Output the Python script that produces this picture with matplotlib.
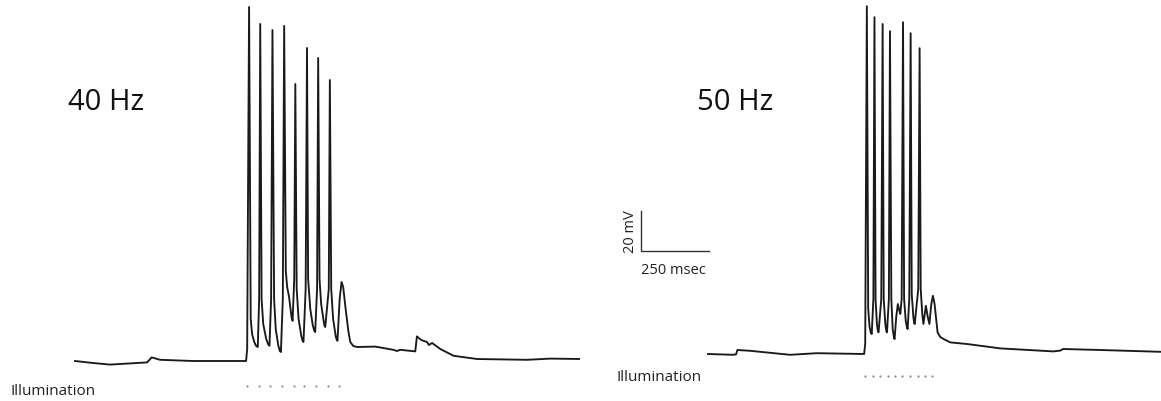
import numpy as np
import matplotlib
matplotlib.use('Agg')
import matplotlib.pyplot as plt

plt.rcParams['font.family'] = ['Open Sans', 'DejaVu Sans']

# 40 Hz trace (time in ms, membrane potential in mV), key points
t40 = [0, 66, 129, 265, 282, 313, 434, 629,
       633, 640, 646, 651, 659, 666, 672,
       677, 681, 686, 692, 703, 710, 715,
       721, 726, 732, 738, 747, 753, 757,
       764, 769, 775, 780, 787, 796, 800,
       806, 810, 815, 822, 832, 837, 840,
       848, 853, 857, 865, 874, 880, 883,
       890, 894, 899, 905, 913, 917, 920,
       933, 937, 942, 949, 959, 963, 965,
       973, 980, 986, 995, 1005, 1012, 1023, 1037,
       1104, 1170, 1184, 1196, 1251, 1257, 1273, 1294, 1301, 1313, 1343, 1392,
       1478, 1662, 1748, 1858]
v40 = [-65, -66, -66.8, -65.7, -63.2, -64.4, -65, -65,
       -59, 112, -44, -51.5, -55.5, -57.5, -58,
       -34, 103.5, -34, -46.5, -54, -56.6, -57.4,
       -34, 100.5, -34, -49, -57, -60, -60.5,
       -34, 102.5, -20, -28, -33, -43, -44.9,
       -24, 73.5, -29, -44, -52.5, -55, -55.5,
       -29, 91.5, -24, -39, -47, -50, -50.5,
       -29, 86.5, -24, -36.5, -44, -47.2, -48,
       -29, 75.5, -29, -44, -53, -54.5, -54.9,
       -34, -25.5, -28, -39, -50, -55.5, -57.5, -58,
       -57.8, -59.4, -60, -59.4, -60.2, -52.7, -54.5, -55.5, -57, -56, -59, -62.4,
       -64, -64.4, -63.8, -64]

# 50 Hz trace
t50 = [0, 93, 103, 108, 155, 302, 400, 574,
       578, 584, 589, 594, 599, 602,
       608, 612, 616, 621, 625, 627,
       637, 642, 646, 652, 656, 658,
       665, 669, 674, 679, 684, 686,
       692, 698, 703, 707,
       712, 717, 721, 727, 732, 734,
       740, 745, 749, 755, 758, 760,
       773, 778, 782, 788, 792,
       801, 808, 814, 821, 827, 833, 844, 854, 866, 891,
       952, 1075, 1270, 1295, 1306, 1443, 1663]
v50 = [-65, -65.4, -65.2, -63, -63.4, -65.4, -64.6, -65,
       -60, 108.9, -42.5, -51.5, -54.5, -55,
       -37.5, 103.4, -37.5, -50, -53.8, -54.2,
       -37.5, 100, -37.5, -50, -53.8, -54.2,
       -37.5, 96.4, -37.5, -52.5, -57, -57.5,
       -46.5, -40, -43, -45,
       -37.5, 100.9, -37.5, -48.5, -52, -52.5,
       -37.5, 95.4, -35, -46.5, -49.5, -50,
       -32.5, 87.9, -32.5, -45.5, -50,
       -40.9, -46.5, -50, -40, -35.9, -40, -54.2, -56.5, -57.5, -59.2,
       -60, -62.2, -63.7, -63.3, -62.5, -63, -63.9]

# light pulse times (ms)
pulses40 = [632, 675, 718, 761, 804, 843, 887, 929, 971]
pulses50 = [578, 605, 633, 661, 688, 715, 743, 771, 798, 823]

MS_PER_PX = 250 / 68.0
MV_PER_PX = 0.5
W, H = 1161, 402

fig = plt.figure(figsize=(W / 100, H / 100), dpi=100)


def panel(x0, x1, t0_px, rest_px):
    # axes covering pixel columns x0..x1, with t=0 at t0_px and -65 mV at rest_px
    ax = fig.add_axes([x0 / W, 0, (x1 - x0) / W, 1])
    ax.set_xlim((x0 - t0_px) * MS_PER_PX, (x1 - t0_px) * MS_PER_PX)
    ax.set_ylim(-65 - (H - rest_px) * MV_PER_PX, -65 + rest_px * MV_PER_PX)
    ax.axis('off')
    return ax


ax1 = panel(0, 580, 75, 362)
ax2 = panel(580, W, 708, 355)

ax1.plot(t40, v40, color='#1a1a1a', lw=1.35, solid_joinstyle='round')
ax2.plot(t50, v50, color='#1a1a1a', lw=1.35, solid_joinstyle='round')

ax1.plot(pulses40, [-77.7] * len(pulses40), ls='none', marker='o', ms=1.6,
         color='#8a8a8a', mec='none')
ax2.plot(pulses50, [-75.9] * len(pulses50), ls='none', marker='o', ms=1.6,
         color='#8a8a8a', mec='none')

# scale bar: 20 mV / 250 msec
ax2.plot([-246, -246, 4], [6.5, -13.5, -13.5], color='#333333', lw=1.0)
ax2.text(-129, -22.5, '250 msec', ha='center', va='center', fontsize=10.5, color='#222222')
ax2.text(-286, -3.5, '20 mV', ha='center', va='center', rotation=90, fontsize=10.5, color='#222222')

fig.text(68 / W, 1 - 110 / H, '40 Hz', fontsize=21, ha='left', va='baseline', color='#111111')
fig.text(697 / W, 1 - 110 / H, '50 Hz', fontsize=21, ha='left', va='baseline', color='#111111')
fig.text(10 / W, 1 - 395 / H, 'Illumination', fontsize=11, ha='left', va='baseline', color='#222222')
fig.text(617 / W, 1 - 381.5 / H, 'Illumination', fontsize=11, ha='left', va='baseline', color='#222222')

fig.savefig('out.png', dpi=100)
